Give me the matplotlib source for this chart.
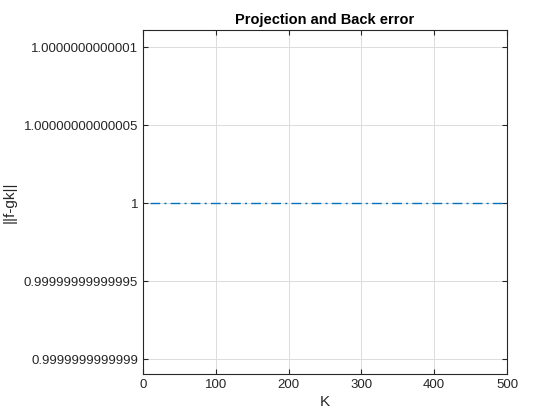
import numpy as np
import matplotlib
matplotlib.use("Agg")
import matplotlib.pyplot as plt

plt.rcParams["font.family"] = ["Liberation Sans", "DejaVu Sans"]

# data: error norm per K (constant at 1)
K = np.arange(10, 501, 10)
err = np.ones_like(K, dtype=float)

ytick_vals = [1 - 1e-13, 1 - 5e-14, 1.0, 1 + 5e-14, 1 + 1e-13]
ytick_labels = ["0.9999999999999", "0.99999999999995", "1",
                "1.00000000000005", "1.0000000000001"]
xtick_vals = [0, 100, 200, 300, 400, 500]

fig = plt.figure(figsize=(5.6, 4.2), dpi=100)
ax = fig.add_axes([143/560, 1 - 374/420, (507-143)/560, (374-30)/420])

ax.plot(K, err, linestyle=(0, (7, 3, 1.5, 3)), color=(0, 0.447, 0.741),
        linewidth=1.0)

ax.set_xlim(0, 500)
ax.set_ylim(1 - 1.096e-13, 1 + 1.109e-13)
ax.set_xticks(xtick_vals)
ax.set_yticks(ytick_vals)
ax.set_yticklabels(ytick_labels)

ax.grid(True, color="#dcdcdc", linewidth=0.7)
ax.set_axisbelow(True)
for s in ax.spines.values():
    s.set_color("#262626")
    s.set_linewidth(0.8)
ax.tick_params(direction="in", length=3.5, colors="#262626", labelsize=9.5,
               top=True, right=True)

ax.set_xlabel("K", fontsize=11, color="#262626", labelpad=3)
ax.set_ylabel("||f-gk||", fontsize=11, color="#262626", labelpad=5)
ax.set_title("Projection and Back error", fontsize=10.5, fontweight="bold", pad=4)

fig.savefig("out.png", dpi=100)
